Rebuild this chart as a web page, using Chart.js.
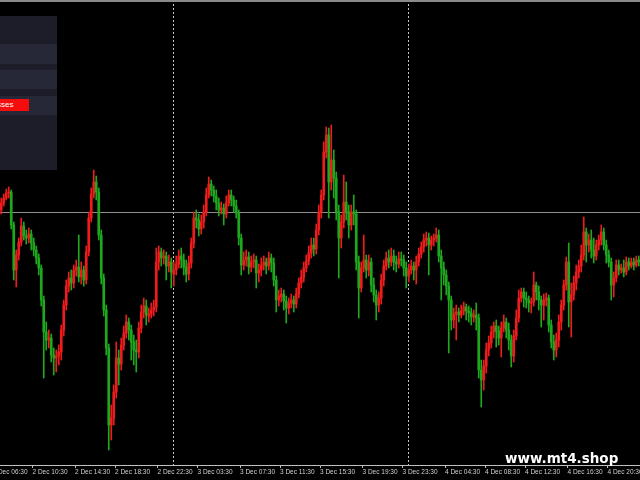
<!DOCTYPE html>
<html>
<head>
<meta charset="utf-8">
<title>Chart</title>
<script src="https://cdn.jsdelivr.net/npm/chart.js@4.4.1/dist/chart.umd.min.js"></script>
<style>
  html, body { margin: 0; padding: 0; background: #000; overflow: hidden; }
  #wrap { position: relative; width: 640px; height: 480px; background: #000; overflow: hidden; }
  #priceCanvas { position: absolute; left: 0; top: 0; }
  #topLine { position: absolute; left: 0; top: 0; width: 640px; height: 2px; background: #8a8a8a; }
  .panel { position: absolute; left: 0; top: 16px; width: 57px; height: 154px; background: #1c1d29; }
  .row { position: absolute; left: 0; width: 57px; background: #262837; }
  .btn { position: absolute; left: -50px; top: 99px; width: 79px; height: 12px; background: #f50d0d;
         color: #fff; font: 8px/12px "Liberation Sans", sans-serif; text-align: center; }
  .mark { position: absolute; left: 505px; top: 451px; color: #fff; white-space: nowrap;
          font: bold 13.5px/14px "DejaVu Sans", sans-serif; }
</style>
</head>
<body>
<div id="wrap">
  <canvas id="priceCanvas" width="640" height="480"></canvas>
  <div id="topLine"></div>
  <div class="panel">
    <div class="row" style="top:28px;height:20px"></div>
    <div class="row" style="top:54px;height:19px"></div>
    <div class="row" style="top:80px;height:19px"></div>
  </div>
  <div class="btn">Close Losses</div>
  <div class="mark">www.mt4.shop</div>
</div>
<script>
// M15 candles, oldest first
const openPrices = [
  1.2890,1.2897,1.2902,1.2907,1.2908,1.2875,1.2830,1.2845,1.2858,1.2874,
  1.2864,1.2862,1.2866,1.2857,1.2850,1.2842,1.2832,1.2800,1.2768,1.2760,
  1.2762,1.2745,1.2742,1.2744,1.2748,1.2770,1.2795,1.2814,1.2822,1.2817,
  1.2830,1.2833,1.2823,1.2830,1.2820,1.2848,1.2882,1.2906,1.2918,1.2908,
  1.2865,1.2822,1.2790,1.2752,1.2675,1.2682,1.2708,1.2742,1.2736,1.2755,
  1.2767,1.2778,1.2770,1.2758,1.2750,1.2748,1.2772,1.2788,1.2794,1.2784,
  1.2786,1.2790,1.2793,1.2838,1.2848,1.2842,1.2844,1.2834,1.2838,1.2826,
  1.2830,1.2836,1.2844,1.2840,1.2833,1.2826,1.2837,1.2857,1.2882,1.2880,
  1.2871,1.2878,1.2888,1.2905,1.2916,1.2910,1.2904,1.2897,1.2890,1.2892,
  1.2886,1.2897,1.2905,1.2900,1.2894,1.2887,1.2862,1.2835,1.2840,1.2843,
  1.2833,1.2838,1.2840,1.2827,1.2830,1.2835,1.2838,1.2834,1.2842,1.2837,
  1.2820,1.2800,1.2803,1.2806,1.2799,1.2792,1.2797,1.2800,1.2796,1.2806,
  1.2817,1.2823,1.2832,1.2839,1.2847,1.2855,1.2851,1.2870,1.2888,1.2905,
  1.2948,1.2965,1.2918,1.2940,1.2922,1.2888,1.2862,1.2878,1.2898,1.2888,
  1.2875,1.2888,1.2886,1.2838,1.2812,1.2832,1.2840,1.2830,1.2838,1.2815,
  1.2805,1.2795,1.2802,1.2820,1.2834,1.2842,1.2838,1.2844,1.2838,1.2836,
  1.2841,1.2840,1.2832,1.2824,1.2830,1.2834,1.2830,1.2838,1.2846,1.2853,
  1.2860,1.2862,1.2855,1.2860,1.2862,1.2865,1.2844,1.2832,1.2825,1.2814,
  1.2800,1.2780,1.2786,1.2788,1.2785,1.2789,1.2793,1.2789,1.2787,1.2783,
  1.2785,1.2782,1.2730,1.2720,1.2734,1.2750,1.2757,1.2768,1.2774,1.2769,
  1.2762,1.2772,1.2778,1.2770,1.2760,1.2744,1.2764,1.2782,1.2802,1.2808,
  1.2802,1.2800,1.2797,1.2798,1.2815,1.2808,1.2800,1.2795,1.2800,1.2802,
  1.2775,1.2758,1.2750,1.2760,1.2778,1.2795,1.2815,1.2838,1.2798,1.2805,
  1.2817,1.2828,1.2834,1.2845,1.2868,1.2855,1.2860,1.2850,1.2844,1.2855,
  1.2860,1.2868,1.2855,1.2845,1.2838,1.2815,1.2822,1.2835,1.2830,1.2832,
  1.2828,1.2838,1.2834,1.2838,1.2835,1.2840
];
const highPrices = [
  1.2902,1.2906,1.2911,1.2913,1.2910,1.2878,1.2850,1.2862,1.2882,1.2878,
  1.2870,1.2872,1.2870,1.2862,1.2854,1.2846,1.2835,1.2804,1.2778,1.2770,
  1.2766,1.2752,1.2750,1.2755,1.2775,1.2800,1.2820,1.2828,1.2830,1.2835,
  1.2840,1.2865,1.2838,1.2834,1.2854,1.2888,1.2912,1.2930,1.2924,1.2912,
  1.2870,1.2826,1.2795,1.2756,1.2695,1.2715,1.2758,1.2750,1.2762,1.2774,
  1.2785,1.2782,1.2775,1.2765,1.2760,1.2778,1.2795,1.2802,1.2800,1.2792,
  1.2797,1.2800,1.2852,1.2854,1.2852,1.2850,1.2848,1.2845,1.2842,1.2838,
  1.2844,1.2850,1.2852,1.2846,1.2840,1.2844,1.2862,1.2888,1.2890,1.2886,
  1.2885,1.2895,1.2912,1.2923,1.2920,1.2914,1.2910,1.2902,1.2898,1.2896,
  1.2904,1.2910,1.2910,1.2904,1.2900,1.2890,1.2866,1.2848,1.2850,1.2848,
  1.2844,1.2846,1.2844,1.2836,1.2842,1.2844,1.2842,1.2848,1.2846,1.2842,
  1.2824,1.2810,1.2812,1.2810,1.2804,1.2802,1.2806,1.2804,1.2812,1.2822,
  1.2830,1.2838,1.2845,1.2854,1.2862,1.2862,1.2876,1.2895,1.2910,1.2958,
  1.2973,1.2972,1.2975,1.2950,1.2928,1.2895,1.2885,1.2925,1.2918,1.2895,
  1.2895,1.2905,1.2890,1.2844,1.2838,1.2865,1.2845,1.2845,1.2842,1.2822,
  1.2810,1.2808,1.2826,1.2840,1.2848,1.2850,1.2852,1.2850,1.2844,1.2848,
  1.2848,1.2845,1.2838,1.2836,1.2840,1.2838,1.2844,1.2852,1.2858,1.2866,
  1.2868,1.2867,1.2864,1.2866,1.2872,1.2870,1.2850,1.2838,1.2830,1.2818,
  1.2804,1.2792,1.2795,1.2792,1.2795,1.2798,1.2796,1.2794,1.2792,1.2790,
  1.2797,1.2786,1.2740,1.2740,1.2757,1.2764,1.2774,1.2778,1.2780,1.2774,
  1.2778,1.2785,1.2782,1.2777,1.2765,1.2770,1.2790,1.2810,1.2812,1.2812,
  1.2808,1.2804,1.2802,1.2828,1.2818,1.2814,1.2804,1.2806,1.2807,1.2805,
  1.2780,1.2765,1.2767,1.2785,1.2800,1.2820,1.2843,1.2857,1.2817,1.2824,
  1.2835,1.2840,1.2855,1.2883,1.2872,1.2866,1.2870,1.2862,1.2860,1.2865,
  1.2875,1.2872,1.2860,1.2850,1.2842,1.2828,1.2840,1.2840,1.2836,1.2840,
  1.2843,1.2842,1.2842,1.2842,1.2844,1.2844
];
const lowPrices = [
  1.2886,1.2894,1.2900,1.2902,1.2871,1.2820,1.2813,1.2840,1.2854,1.2860,
  1.2856,1.2857,1.2850,1.2844,1.2836,1.2825,1.2794,1.2722,1.2750,1.2752,
  1.2738,1.2725,1.2728,1.2735,1.2740,1.2764,1.2790,1.2808,1.2810,1.2812,
  1.2824,1.2818,1.2816,1.2814,1.2816,1.2844,1.2878,1.2902,1.2900,1.2860,
  1.2816,1.2784,1.2745,1.2650,1.2660,1.2675,1.2702,1.2715,1.2730,1.2750,
  1.2762,1.2760,1.2740,1.2735,1.2728,1.2742,1.2767,1.2782,1.2775,1.2778,
  1.2782,1.2784,1.2788,1.2830,1.2834,1.2836,1.2820,1.2828,1.2812,1.2814,
  1.2825,1.2832,1.2832,1.2825,1.2818,1.2820,1.2832,1.2852,1.2872,1.2864,
  1.2866,1.2872,1.2884,1.2902,1.2904,1.2898,1.2890,1.2884,1.2886,1.2875,
  1.2882,1.2894,1.2894,1.2888,1.2882,1.2855,1.2825,1.2830,1.2834,1.2826,
  1.2828,1.2832,1.2812,1.2818,1.2824,1.2830,1.2826,1.2830,1.2828,1.2814,
  1.2788,1.2794,1.2798,1.2790,1.2777,1.2786,1.2792,1.2788,1.2792,1.2802,
  1.2812,1.2818,1.2828,1.2835,1.2842,1.2844,1.2846,1.2865,1.2882,1.2900,
  1.2942,1.2882,1.2910,1.2902,1.2880,1.2822,1.2852,1.2872,1.2880,1.2862,
  1.2870,1.2875,1.2830,1.2782,1.2808,1.2828,1.2822,1.2824,1.2808,1.2798,
  1.2780,1.2788,1.2796,1.2814,1.2830,1.2832,1.2834,1.2830,1.2828,1.2832,
  1.2834,1.2824,1.2812,1.2818,1.2826,1.2820,1.2816,1.2834,1.2842,1.2848,
  1.2854,1.2825,1.2850,1.2854,1.2858,1.2838,1.2800,1.2815,1.2805,1.2747,
  1.2770,1.2772,1.2760,1.2778,1.2782,1.2785,1.2780,1.2778,1.2775,1.2778,
  1.2770,1.2722,1.2693,1.2710,1.2727,1.2744,1.2752,1.2762,1.2753,1.2755,
  1.2743,1.2768,1.2762,1.2750,1.2733,1.2738,1.2760,1.2778,1.2798,1.2793,
  1.2792,1.2788,1.2787,1.2794,1.2800,1.2790,1.2773,1.2780,1.2794,1.2768,
  1.2752,1.2740,1.2743,1.2753,1.2770,1.2790,1.2810,1.2773,1.2763,1.2800,
  1.2810,1.2822,1.2828,1.2840,1.2838,1.2848,1.2842,1.2837,1.2840,1.2850,
  1.2855,1.2850,1.2837,1.2833,1.2800,1.2803,1.2818,1.2825,1.2827,1.2823,
  1.2825,1.2830,1.2832,1.2830,1.2833,1.2834
];
const closePrices = [
  1.2897,1.2902,1.2907,1.2908,1.2875,1.2830,1.2845,1.2858,1.2874,1.2864,
  1.2862,1.2866,1.2857,1.2850,1.2842,1.2832,1.2800,1.2768,1.2760,1.2762,
  1.2745,1.2742,1.2744,1.2748,1.2770,1.2795,1.2814,1.2822,1.2817,1.2830,
  1.2833,1.2823,1.2830,1.2820,1.2848,1.2882,1.2906,1.2918,1.2908,1.2865,
  1.2822,1.2790,1.2752,1.2675,1.2682,1.2708,1.2742,1.2736,1.2755,1.2767,
  1.2778,1.2770,1.2758,1.2750,1.2748,1.2772,1.2788,1.2794,1.2785,1.2786,
  1.2790,1.2793,1.2838,1.2848,1.2842,1.2844,1.2834,1.2838,1.2828,1.2830,
  1.2836,1.2844,1.2840,1.2833,1.2826,1.2837,1.2857,1.2882,1.2880,1.2871,
  1.2878,1.2888,1.2905,1.2916,1.2910,1.2904,1.2897,1.2890,1.2892,1.2886,
  1.2897,1.2905,1.2900,1.2894,1.2887,1.2862,1.2835,1.2840,1.2843,1.2833,
  1.2838,1.2840,1.2827,1.2830,1.2835,1.2838,1.2834,1.2842,1.2837,1.2820,
  1.2800,1.2804,1.2806,1.2799,1.2792,1.2797,1.2800,1.2796,1.2806,1.2817,
  1.2823,1.2832,1.2839,1.2847,1.2855,1.2851,1.2870,1.2888,1.2905,1.2948,
  1.2965,1.2918,1.2940,1.2922,1.2888,1.2862,1.2878,1.2898,1.2888,1.2875,
  1.2888,1.2886,1.2838,1.2812,1.2832,1.2840,1.2830,1.2838,1.2815,1.2805,
  1.2795,1.2802,1.2820,1.2834,1.2842,1.2838,1.2844,1.2838,1.2836,1.2841,
  1.2840,1.2832,1.2824,1.2830,1.2834,1.2830,1.2838,1.2846,1.2853,1.2860,
  1.2862,1.2855,1.2860,1.2862,1.2865,1.2844,1.2832,1.2825,1.2814,1.2800,
  1.2780,1.2786,1.2788,1.2785,1.2789,1.2793,1.2789,1.2787,1.2783,1.2785,
  1.2782,1.2730,1.2720,1.2734,1.2750,1.2757,1.2768,1.2774,1.2769,1.2762,
  1.2772,1.2778,1.2770,1.2760,1.2744,1.2764,1.2782,1.2802,1.2808,1.2802,
  1.2800,1.2797,1.2798,1.2815,1.2808,1.2800,1.2795,1.2800,1.2802,1.2775,
  1.2758,1.2750,1.2760,1.2778,1.2795,1.2815,1.2838,1.2798,1.2805,1.2817,
  1.2828,1.2834,1.2845,1.2868,1.2855,1.2860,1.2850,1.2844,1.2855,1.2860,
  1.2868,1.2855,1.2845,1.2838,1.2815,1.2822,1.2835,1.2830,1.2832,1.2828,
  1.2838,1.2834,1.2838,1.2835,1.2840,1.2838
];

// time axis: bar index where each label sits, and its text
const timeTicks = [-3, 13, 30, 46, 63, 79, 96, 112, 128, 145, 161, 178, 194, 210, 227, 243];
const timeLabels = ['2 Dec 06:30', '2 Dec 10:30', '2 Dec 14:30', '2 Dec 18:30', '2 Dec 22:30',
  '3 Dec 03:30', '3 Dec 07:30', '3 Dec 11:30', '3 Dec 15:30', '3 Dec 19:30', '3 Dec 23:30',
  '4 Dec 04:30', '4 Dec 08:30', '4 Dec 12:30', '4 Dec 16:30', '4 Dec 20:30'];
const daySeparators = [69.5, 163.5];   // first bar of 3 Dec and 4 Dec
const levelLine = 1.2888;
const priceMin = 1.2635;
const priceMax = 1.3100;

const upColor = '#ee1c1c';
const downColor = '#1fa81f';
const barCount = openPrices.length;
const candleColors = openPrices.map((o, i) => closePrices[i] >= o ? upColor : downColor);
const bodyData = openPrices.map((o, i) => ({ x: i + 0.5, y: [o, closePrices[i]] }));
const wickData = highPrices.map((h, i) => ({ x: i + 0.5, y: [lowPrices[i], h] }));

const labelFont = { family: "'Liberation Sans', Arial, sans-serif", size: 6.5 };

// keep the plot edge to edge, labels may run off the canvas like in the terminal
const noSidePadding = (s) => { s.paddingLeft = 0; s.paddingRight = 0; s.paddingTop = 0; s.paddingBottom = 0; };

const ctx = document.getElementById('priceCanvas').getContext('2d');
new Chart(ctx, {
  type: 'bar',
  data: {
    datasets: [
      { data: bodyData, backgroundColor: candleColors, barThickness: 2, minBarLength: 1,
        grouped: false, borderWidth: 0, xAxisID: 'x', yAxisID: 'y' },
      { data: wickData, backgroundColor: candleColors, barThickness: 1,
        grouped: false, borderWidth: 0, xAxisID: 'x', yAxisID: 'y' }
    ]
  },
  options: {
    responsive: false,
    animation: false,
    events: [],
    layout: { padding: 0, autoPadding: false },
    plugins: { legend: { display: false }, tooltip: { enabled: false } },
    scales: {
      x: {
        type: 'linear', position: 'bottom', min: 0, max: barCount, offset: false,
        afterBuildTicks: (s) => { s.ticks = timeTicks.map(v => ({ value: v })); },
        afterFit: (s) => { s.height = 15; noSidePadding(s); },
        grid: { drawOnChartArea: false, drawTicks: true, tickLength: 3, color: '#c0c0c0', offset: false },
        border: { display: true, color: '#c0c0c0', width: 1 },
        ticks: {
          autoSkip: false, maxRotation: 0, minRotation: 0, align: 'start', padding: 0,
          color: '#d0d0d0', font: labelFont,
          callback: (v, i) => timeLabels[i]
        }
      },
      days: {
        type: 'linear', position: 'top', min: 0, max: barCount, offset: false, z: 1,
        afterBuildTicks: (s) => { s.ticks = daySeparators.map(v => ({ value: v })); },
        afterFit: (s) => { s.height = 0; noSidePadding(s); },
        grid: { drawTicks: false, color: '#c8c8c8', lineWidth: 1, offset: false },
        border: { display: false, dash: [2, 2] },
        ticks: { display: false }
      },
      y: {
        type: 'linear', position: 'right', min: priceMin, max: priceMax, z: 1,
        afterBuildTicks: (s) => { s.ticks = [{ value: levelLine }]; },
        afterFit: (s) => { s.width = 0; noSidePadding(s); },
        grid: { drawTicks: false, color: '#8e8e8e', lineWidth: 1 },
        border: { display: false },
        ticks: { display: false }
      }
    }
  }
});
</script>
</body>
</html>
